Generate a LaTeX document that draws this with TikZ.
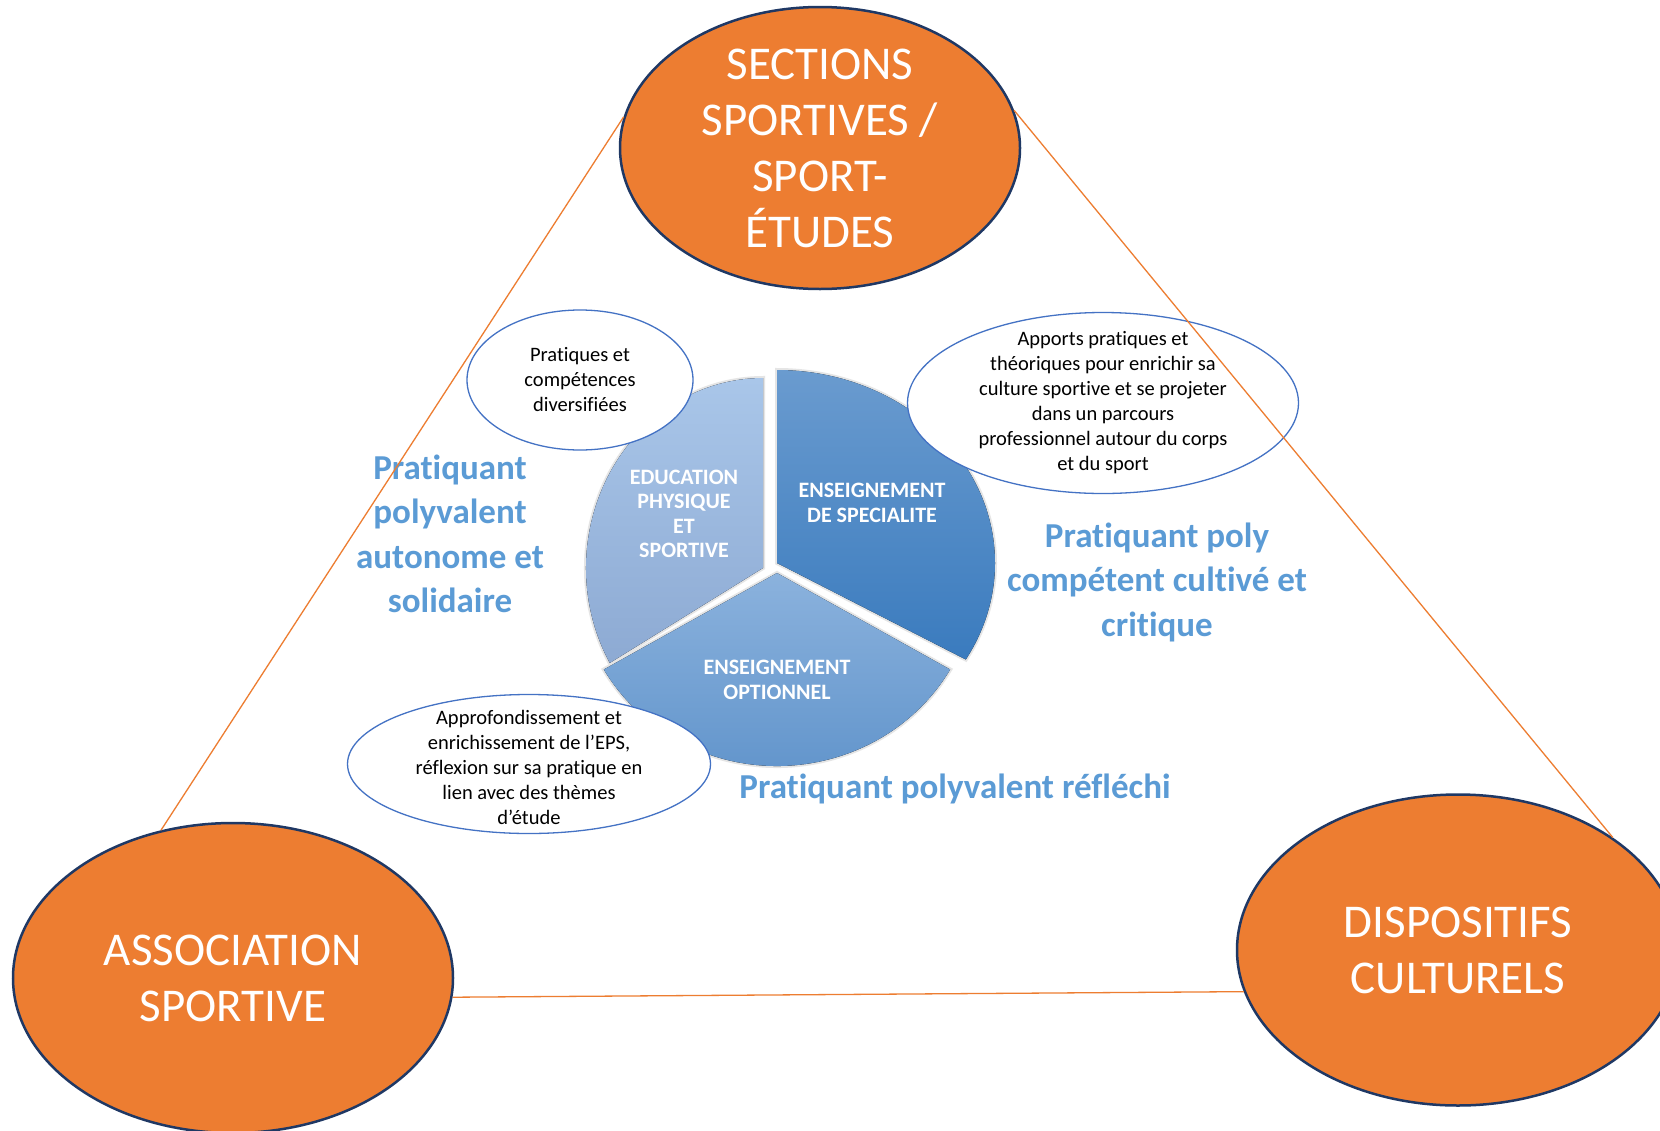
\documentclass[tikz,border=0pt]{standalone}
\usepackage{fontspec}
\setmainfont{Carlito}[Ligatures=NoCommon,RawFeature={-liga;-clig;-calt}]
\usetikzlibrary{shapes.geometric}
\definecolor{orng}{HTML}{ED7D31}
\definecolor{navy}{HTML}{1F3864}
\definecolor{bord}{HTML}{4472C4}
\definecolor{ltxt}{HTML}{5B9BD5}
\definecolor{epsA}{HTML}{A9C6E9}
\definecolor{epsB}{HTML}{8DAAD3}
\definecolor{speA}{HTML}{6A9BCF}
\definecolor{speB}{HTML}{3A7BBE}
\definecolor{optA}{HTML}{8BB2DD}
\definecolor{optB}{HTML}{5E92CA}
\tikzset{
    OV/.style ={ellipse,draw=navy,line width=2.5pt,fill=orng,inner sep=0pt},
    OT/.style ={text=white,align=center,font=\fontsize{47}{56}\selectfont},
    BU/.style ={ellipse,draw=bord,line width=1.3pt,fill=white,inner sep=0pt},
    BT/.style ={align=center,font=\fontsize{20.5}{25}\selectfont},
    PT/.style ={text=white,align=center,font=\bfseries\fontsize{22}{24.5}\selectfont},
    TX/.style ={text=ltxt,align=center,font=\bfseries\fontsize{35}{44.5}\selectfont},
    SL/.style ={preaction={draw=black!10,line width=4pt}},
    LK/.style ={draw=orng,line width=1.3pt}}

\begin{document}
\begin{tikzpicture}[x=1pt,y=-1pt]
    \useasboundingbox[fill=white] (0,0) rectangle (1660,1130);
    % pie
    \coordinate(c1) at(763,568);
    \coordinate(c2) at(777,563);
    \coordinate(c3) at(777,573);
    \fill[SL,top color=epsA,bottom color=epsB] (c1) -- ++(-210:177 and 190)
        arc[start angle=-210,end angle=-90,x radius=177,y radius=190] -- cycle;
    \fill[SL,top color=speA,bottom color=speB] (c2) -- ++(-90:218 and 193)
        arc[start angle=-90,end angle=30,x radius=218,y radius=193] -- cycle;
    \fill[SL,top color=optA,bottom color=optB] (c3) -- ++(30:200 and 193)
        arc[start angle=30,end angle=150,x radius=200,y radius=193] -- cycle;
    \node[PT](p1) at(684,514){EDUCATION\\PHYSIQUE\\ET\\SPORTIVE};
    \node[PT](p2) at(872,503){ENSEIGNEMENT\\DE SPECIALITE};
    \node[PT](p3) at(777,680){ENSEIGNEMENT\\OPTIONNEL};
    % bulles
    \node[BU,minimum width=226pt,minimum height=140pt](b1) at(580,380){};
    \node[BT](b1t) at(b1){Pratiques et\\compétences\\diversifiées};
    \node[BU,minimum width=391pt,minimum height=181pt](b2) at(1103,403){};
    \node[BT](b2t) at(b2){Apports pratiques et\\théoriques pour enrichir sa\\culture sportive et se projeter\\dans un parcours\\professionnel autour du corps\\et du sport};
    \node[BU,minimum width=363pt,minimum height=139pt](b3) at(529,764){};
    \node[BT](b3t) at(529,767){Approfondissement et\\enrichissement de l’EPS,\\réflexion sur sa pratique en\\lien avec des thèmes\\d’étude};
    % profils
    \node[TX](t1) at(450,534){Pratiquant\\polyvalent\\autonome et\\solidaire};
    \node[TX](t2) at(1157,582){Pratiquant poly\\compétent cultivé et\\critique};
    \node[TX,anchor=base](t3) at(955,798){Pratiquant polyvalent réfléchi};
    % dispositifs
    \node[OV,minimum width=400pt,minimum height=282pt](SE) at(820,148){};
    \node[OT](SEt) at(SE){SECTIONS\\SPORTIVES /\\SPORT-\\ÉTUDES};
    \node[OV,minimum width=440pt,minimum height=310pt](AS) at(233,978){};
    \node[OT](ASt) at(AS){ASSOCIATION\\SPORTIVE};
    \node[OV,minimum width=442pt,minimum height=311pt](DC) at(1458,950){};
    \node[OT](DCt) at(DC){DISPOSITIFS\\CULTURELS};
    \draw[LK] (SE.171) -- (AS.116);
    \draw[LK] (SE.11) -- (DC.36);
    \draw[LK] (AS.-5) -- (DC.191);
\end{tikzpicture}
\end{document}
